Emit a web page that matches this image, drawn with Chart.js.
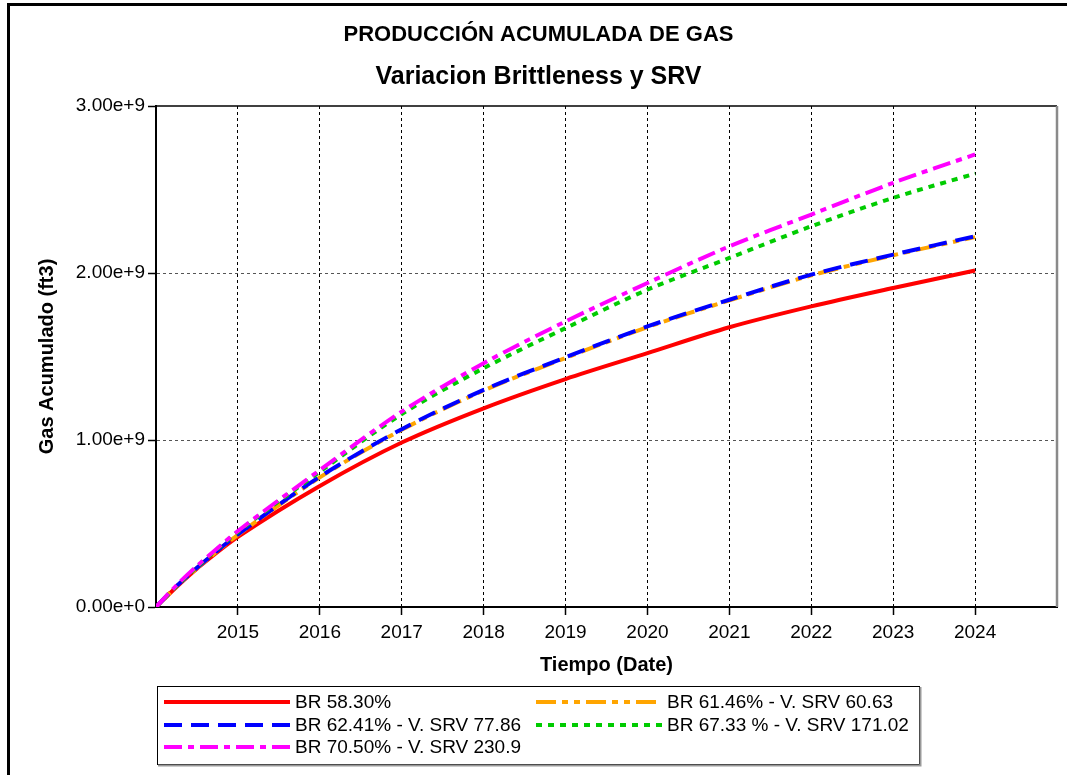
<!DOCTYPE html>
<html><head><meta charset="utf-8">
<script src="https://cdn.jsdelivr.net/npm/chart.js@4.4.0/dist/chart.umd.min.js"></script>
<style>html,body{margin:0;padding:0;background:#fff;}canvas{display:block;}</style>
</head><body>
<canvas id="c" width="1067" height="775"></canvas>
<script>
// ---- data (gas volumes in units of 1e9 ft3) ----
const years = [2014, 2014.25, 2014.5, 2015, 2016, 2017, 2018, 2019, 2020, 2021, 2022, 2023, 2024];
const br5830 = [0, 0.12, 0.23, 0.42, 0.725, 0.985, 1.19, 1.365, 1.52, 1.675, 1.80, 1.91, 2.015];
const br6146 = [0, 0.124, 0.233, 0.432, 0.776, 1.061, 1.296, 1.491, 1.676, 1.836, 1.986, 2.106, 2.215];
const br6241 = [0, 0.125, 0.235, 0.435, 0.78, 1.065, 1.30, 1.495, 1.68, 1.84, 1.99, 2.11, 2.22];
const br6733 = [0, 0.125, 0.24, 0.45, 0.81, 1.155, 1.43, 1.67, 1.90, 2.09, 2.28, 2.45, 2.595];
const br7050 = [0, 0.13, 0.245, 0.455, 0.82, 1.17, 1.46, 1.71, 1.94, 2.16, 2.35, 2.54, 2.71];
const seriesLabels = ['BR 58.30%', 'BR 61.46% - V. SRV 60.63', 'BR 62.41% - V. SRV 77.86', 'BR 67.33 % - V. SRV 171.02', 'BR 70.50% - V. SRV 230.9'];
const xMin = 2014, xMax = 2025;
const yMax = 3e9, yStep = 1e9;
const UNIT = 1e9;

const FONT = "'Liberation Sans', Arial, sans-serif";
const pts = arr => arr.map((v, i) => ({x: years[i], y: v * UNIT}));

const styles = {
  red:     {color: '#ff0000', dash: []},
  orange:  {color: '#ffa500', dash: [20, 6, 6, 6, 6, 6]},
  blue:    {color: '#0000ff', dash: [18, 9]},
  green:   {color: '#00cc00', dash: [6, 6]},
  magenta: {color: '#ff00ff', dash: [18, 6, 6, 6]}
};
function ds(label, arr, st) {
  return {label, data: pts(arr), borderColor: st.color, backgroundColor: st.color,
    borderDash: st.dash, borderWidth: 4, pointRadius: 0, fill: false,
    tension: 0.3, borderCapStyle: 'butt'};
}
const dRed = ds(seriesLabels[0], br5830, styles.red);
const dOrange = ds(seriesLabels[1], br6146, styles.orange);
const dBlue = ds(seriesLabels[2], br6241, styles.blue);
const dGreen = ds(seriesLabels[3], br6733, styles.green);
const dMag = ds(seriesLabels[4], br7050, styles.magenta);
// first dataset is drawn on top
const datasets = [dMag, dGreen, dBlue, dOrange, dRed];
const legendRows = [[dRed, dOrange], [dBlue, dGreen], [dMag]];

const framePlugin = {
  id: 'frame',
  beforeDraw(chart) {
    const c = chart.ctx;
    c.save(); c.fillStyle = '#fff'; c.fillRect(0, 0, chart.width, chart.height); c.restore();
  },
  afterDraw(chart) {
    const c = chart.ctx, a = chart.chartArea;
    c.save();
    c.strokeStyle = '#000'; c.lineWidth = 1.5;
    c.beginPath(); c.moveTo(a.left, a.top); c.lineTo(a.right, a.top); c.stroke();
    c.strokeStyle = '#8a8a8a'; c.lineWidth = 2.5;
    c.beginPath(); c.moveTo(a.right, a.top); c.lineTo(a.right, a.bottom); c.stroke();
    c.fillStyle = '#000';
    c.fillRect(7, 3, chart.width - 7, 3);
    c.fillRect(7, 3, 3, chart.height - 3);
    const L = 157, T = 686, R = 919, B = 764;
    c.fillStyle = '#fff'; c.fillRect(L, T, R - L, B - T);
    c.strokeStyle = '#000'; c.lineWidth = 1;
    c.strokeRect(L + 0.5, T + 0.5, R - L, B - T);
    c.strokeStyle = '#999'; c.lineWidth = 2;
    c.beginPath(); c.moveTo(L + 1, B + 1.5); c.lineTo(R + 1.5, B + 1.5); c.lineTo(R + 1.5, T + 1); c.stroke();
    const colX = [164, 536], rowY = [702, 725, 747];
    c.font = '19px ' + FONT; c.textBaseline = 'middle'; c.textAlign = 'left';
    legendRows.forEach((row, r) => row.forEach((d, k) => {
      const x0 = colX[k], y = rowY[r];
      c.strokeStyle = d.borderColor; c.lineWidth = 4; c.setLineDash(d.borderDash);
      c.beginPath(); c.moveTo(x0, y); c.lineTo(x0 + 126, y); c.stroke();
      c.setLineDash([]);
      c.fillStyle = '#000'; c.fillText(d.label, x0 + 131, y + 1);
    }));
    c.restore();
  }
};

new Chart(document.getElementById('c'), {
  type: 'line',
  data: {datasets},
  plugins: [framePlugin],
  options: {
    responsive: false, animation: false, devicePixelRatio: 1,
    layout: {padding: {left: 20, right: 10, top: 0, bottom: 94}},
    plugins: {
      legend: {display: false}, tooltip: {enabled: false},
      title: {display: true, text: 'PRODUCCIÓN ACUMULADA DE GAS', color: '#000',
        font: {family: FONT, size: 22, weight: 'bold'}, padding: {top: 22, bottom: 8}},
      subtitle: {display: true, text: 'Variacion Brittleness y SRV', color: '#000',
        font: {family: FONT, size: 25, weight: 'bold'}, padding: {top: 5.6, bottom: 14}}
    },
    scales: {
      x: {
        type: 'linear', min: xMin, max: xMax,
        afterFit(s) { s.height = 74; },
        ticks: {stepSize: 1, autoSkip: false, maxRotation: 0, color: '#000', padding: 6,
          font: {family: FONT, size: 19},
          callback: v => (v <= xMin || v >= xMax) ? null : String(v)},
        grid: {color: '#000', lineWidth: 1, tickLength: 8, tickColor: '#000', tickWidth: 1.5, tickBorderDash: []},
        border: {color: '#000', width: 2, dash: [3, 3]},
        title: {display: true, text: 'Tiempo (Date)', color: '#000',
          font: {family: FONT, size: 20, weight: 'bold'}, padding: {top: 0, bottom: 4}}
      },
      y: {
        min: 0, max: yMax,
        afterFit(s) { s.width = 136; },
        ticks: {stepSize: yStep, color: '#000', padding: 3, font: {family: FONT, size: 19},
          callback: v => Number(v).toExponential(2)},
        grid: {color: c => (c.tick && (c.tick.value === 0 || c.tick.value === yMax)) ? 'rgba(0,0,0,0)' : '#555',
          lineWidth: 1, tickLength: 8, tickColor: '#000', tickWidth: 1.5, tickBorderDash: []},
        border: {color: '#000', width: 2, dash: [3, 3]},
        title: {display: true, text: 'Gas Acumulado (ft3)', color: '#000',
          font: {family: FONT, size: 20, weight: 'bold'}, padding: {top: 15, bottom: 0}}
      }
    }
  }
});
</script>
</body></html>
